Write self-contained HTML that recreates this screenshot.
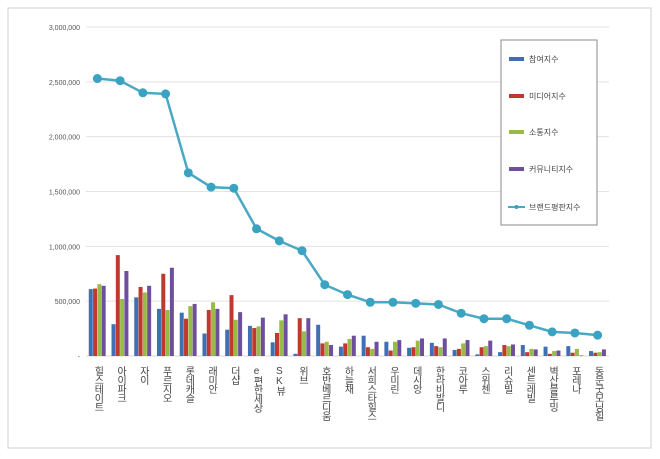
<!DOCTYPE html>
<html><head><meta charset="utf-8"><style>
body{margin:0;background:#fff;}
svg text{font-family:"Liberation Sans","Noto Sans CJK KR",sans-serif;}
</style></head><body>
<svg id="chart" width="660" height="454" xmlns="http://www.w3.org/2000/svg">
<rect x="8" y="8" width="643" height="440" fill="#fff" stroke="#d0d0d0"/>
<g id="grid"></g><g id="bars"></g><g id="line"></g><g id="labels"></g>
<g>
<rect x="501" y="40" width="96" height="185" fill="#fff" stroke="#888"/>
</g>
<g id="legend"></g>
</svg>
<script>
const categories=["힐스테이트","아이파크","자이","푸르지오","롯데캐슬","래미안","더샵","e편한세상","SK뷰","위브","호반베르디움","하늘채","서희스타힐스","우미린","데시앙","한라비발디","코아루","스위첸","리슈빌","센트레빌","벽산블루밍","포레나","동문굿모닝힐"];
const participation=[610000,290000,535000,430000,395000,205000,240000,275000,125000,20000,285000,85000,185000,130000,75000,120000,55000,15000,35000,100000,85000,90000,45000];
const media=[615000,920000,630000,750000,340000,420000,555000,255000,210000,345000,115000,115000,80000,50000,80000,90000,65000,80000,100000,35000,20000,30000,30000];
const communication=[655000,520000,580000,420000,455000,490000,330000,270000,325000,225000,130000,155000,65000,130000,140000,80000,115000,90000,90000,65000,45000,65000,35000];
const community=[640000,775000,640000,805000,475000,430000,400000,350000,380000,345000,100000,185000,130000,145000,160000,160000,145000,140000,105000,60000,50000,5000,60000];
const brandIndex=[2530000,2510000,2400000,2390000,1670000,1540000,1530000,1160000,1050000,960000,650000,560000,490000,490000,480000,470000,390000,340000,340000,280000,220000,210000,190000];
const yTicks=[0,500000,1000000,1500000,2000000,2500000,3000000];
const yTickLabels=["-","500,000","1,000,000","1,500,000","2,000,000","2,500,000","3,000,000"];
const seriesNames=["참여지수","미디어지수","소통지수","커뮤니티지수"];
const colors=["#3f70b5","#c0392f","#97bb46","#6e4f9c"];
const NS="http://www.w3.org/2000/svg";
const x0=86,x1=609,y0=356,yTop=27,yMax=3000000;
const band=(x1-x0)/categories.length;
const y=v=>y0-(v/yMax)*(y0-yTop);
const xc=i=>x0+band*(i+0.5);
function mk(tag,attrs,parent){const e=document.createElementNS(NS,tag);for(const k in attrs)e.setAttribute(k,attrs[k]);document.getElementById(parent).appendChild(e);return e;}
yTicks.forEach((t,i)=>{
  if(t>0){const g=mk('line',{x1:x0,x2:x1,y1:y(t),y2:y(t),stroke:'#e3e3e3'},'grid');
  
  }
  const tx=mk('text',{x:80,y:y(t)+3,'text-anchor':'end','font-size':'7',fill:'#555'},'grid');
  tx.textContent=yTickLabels[i];
  
  
});
const ax=mk('line',{x1:x0,x2:x1,y1:y0,y2:y0,stroke:'#d9d9d9'},'grid');


const all=[participation,media,communication,community];
const bw=4.3;
categories.forEach((c,i)=>{
  all.forEach((s,k)=>{
    const b=mk('rect',{x:xc(i)-2*bw+k*bw,y:y(s[i]),width:bw-0.3,height:y0-y(s[i]),fill:colors[k]},'bars');
    
    
  });
  const t=mk('text',{x:xc(i),y:366,'font-size':'10',fill:'#444','writing-mode':'tb','glyph-orientation-vertical':'0',style:'writing-mode:vertical-rl;text-orientation:upright;letter-spacing:-1px'},'labels');
  t.textContent=c;
  
  
});
const pts=brandIndex.map((v,i)=>xc(i)+','+y(v)).join(' ');
const pl=mk('polyline',{points:pts,fill:'none',stroke:'#4aa8c4','stroke-width':'2.5'},'line');


brandIndex.forEach((v,i)=>{
  const p=mk('circle',{cx:xc(i),cy:y(v),r:4.5,fill:'#3aa3c2'},'line');
  
  
});
const ly=[59,96,132,169,207];
seriesNames.forEach((n,k)=>{
  const r=mk('rect',{x:509,y:ly[k]-2,width:15,height:4,fill:colors[k]},'legend');
  
  
  const t=mk('text',{x:529,y:ly[k]+3,'font-size':'8',fill:'#444'},'legend');
  t.textContent=n;
  
  
});
const ll=mk('line',{x1:508,x2:525,y1:207,y2:207,stroke:'#4aa8c4','stroke-width':'2'},'legend');


const lc=mk('circle',{cx:516.5,cy:207,r:2,fill:'#3aa3c2'},'legend');


const lt=mk('text',{x:529,y:210,'font-size':'8',fill:'#444'},'legend');
lt.textContent="브랜드평판지수";


</script>
</body></html>
